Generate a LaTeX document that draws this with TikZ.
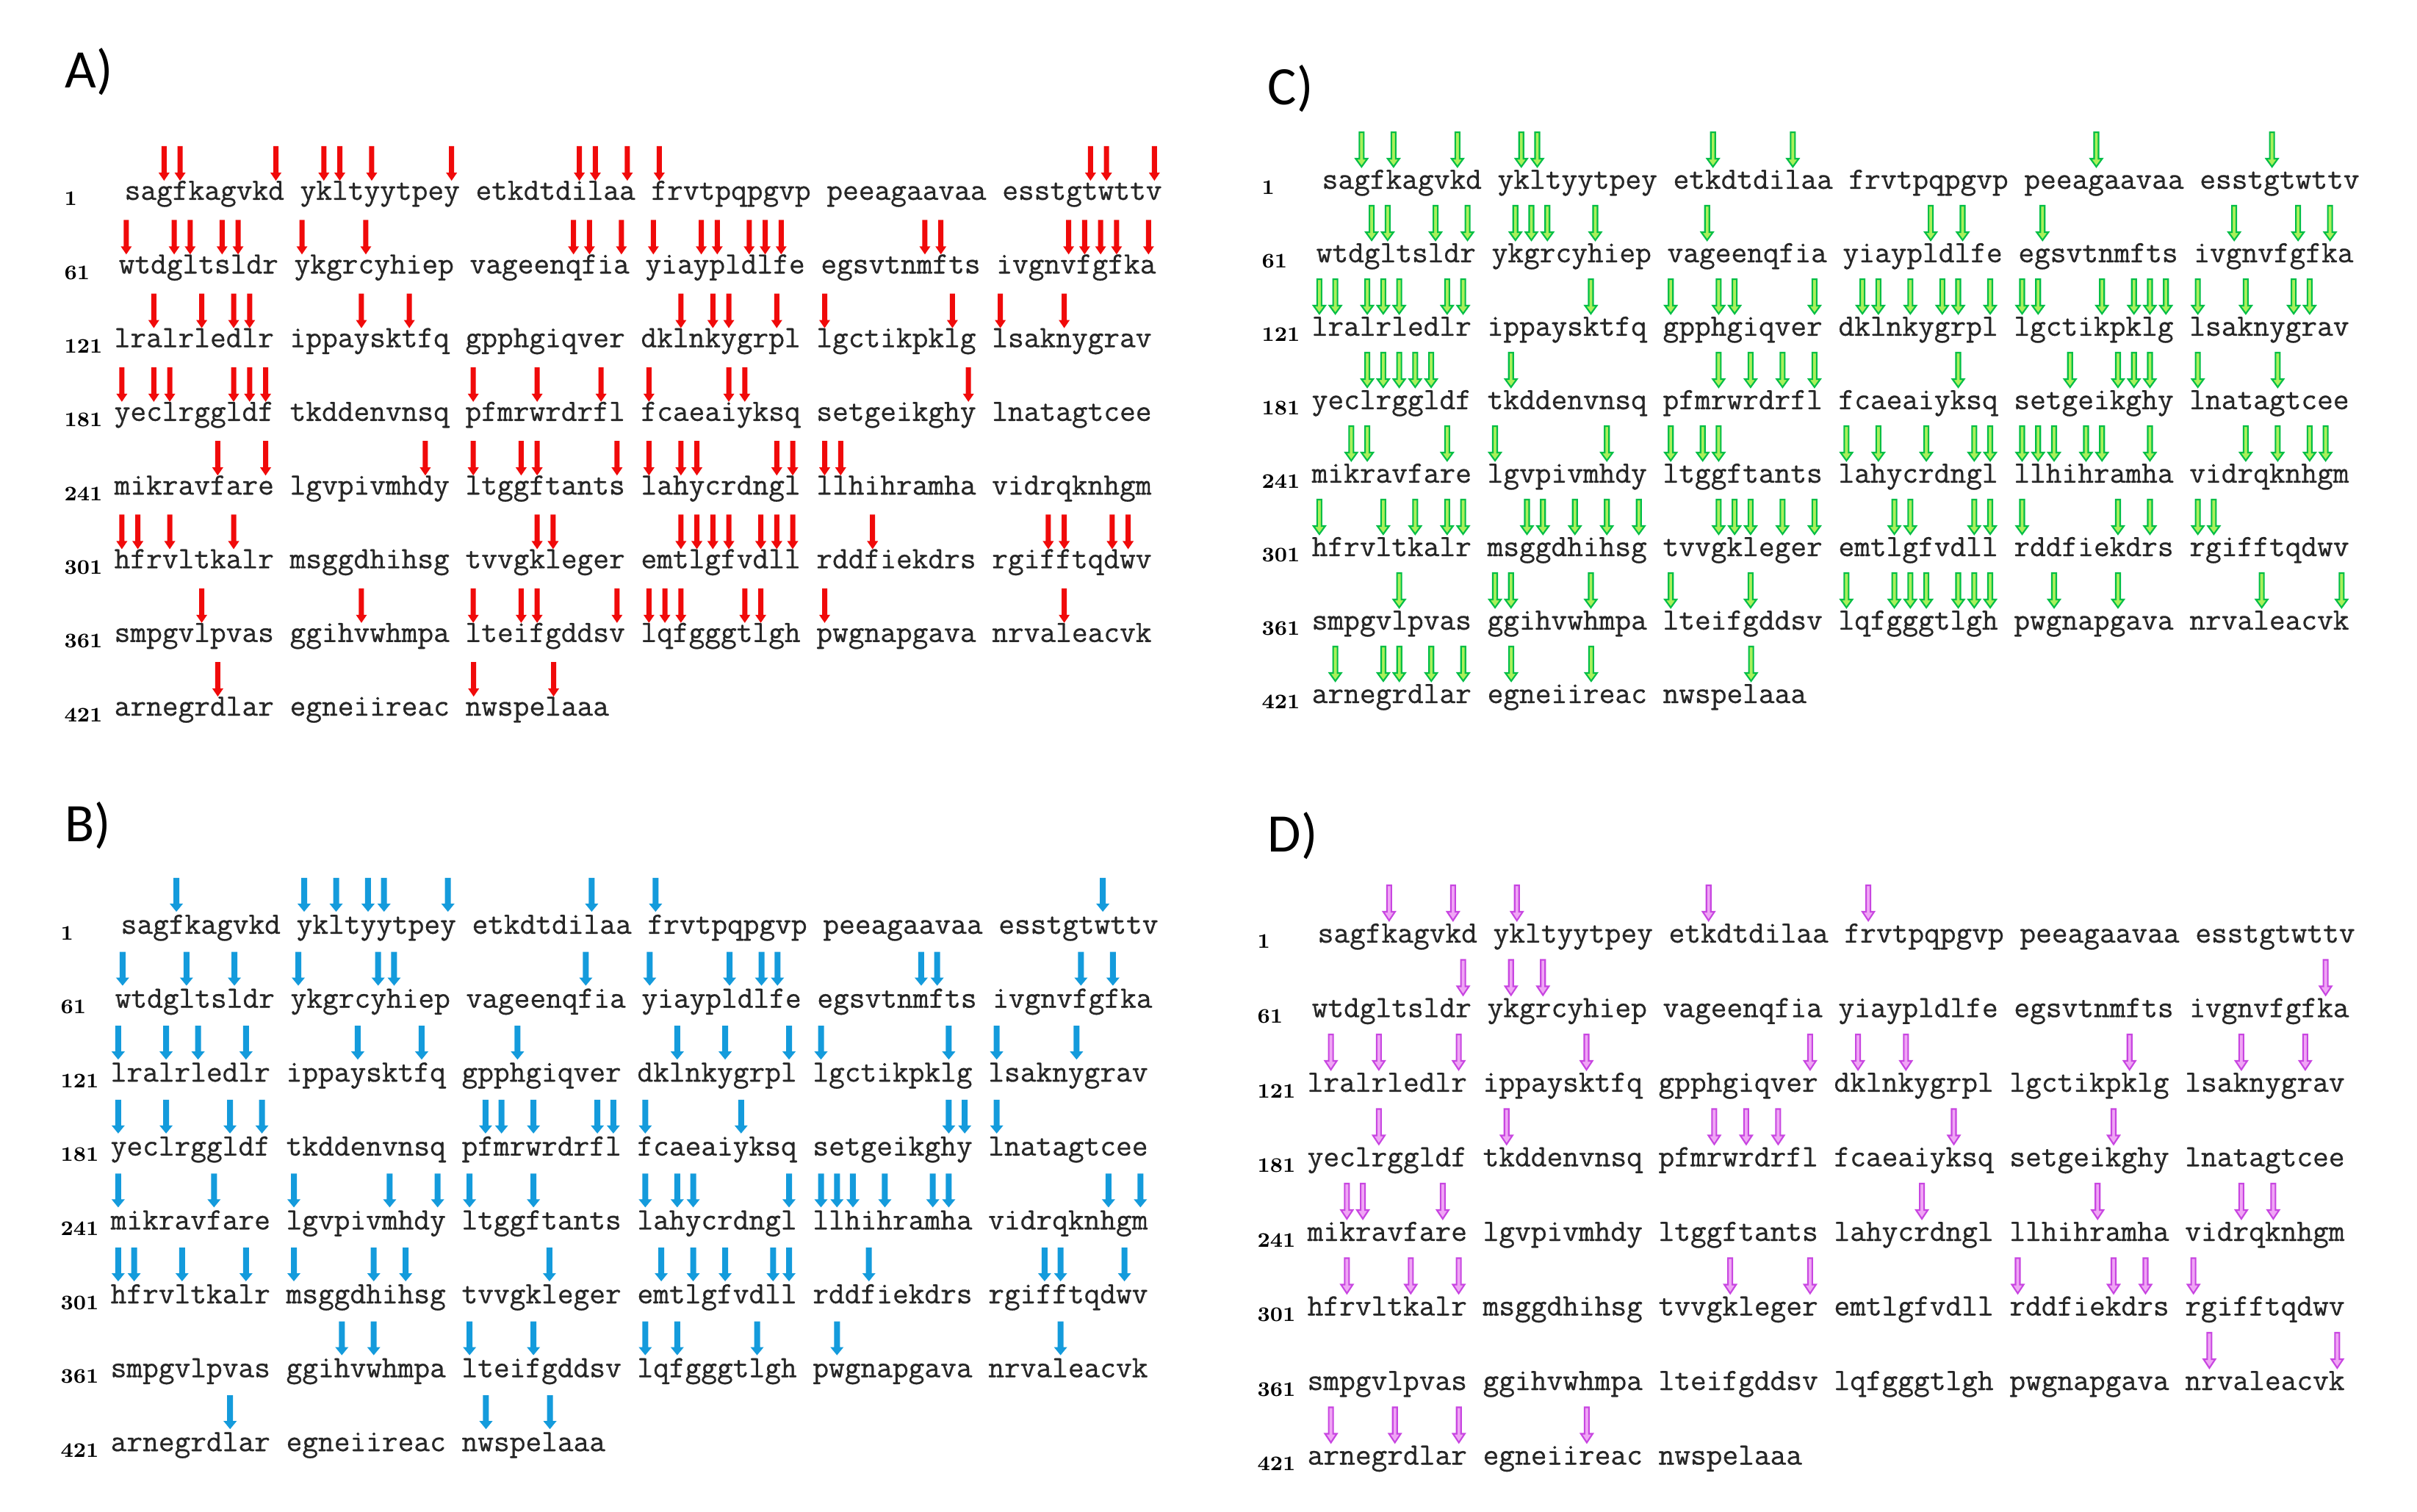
\documentclass[tikz,border=0pt]{standalone}
\usepackage{fontspec}
\newfontfamily\panelfont{Carlito}
\newfontfamily\seqfont{Latin Modern Mono}[FakeBold=0.6]
\usetikzlibrary{calc}

\definecolor{redarr}{RGB}{240,10,10}
\definecolor{bluearr}{RGB}{20,155,220}
\definecolor{greenedge}{RGB}{0,190,70}
\definecolor{greenfill}{RGB}{170,240,90}
\definecolor{violetedge}{RGB}{200,70,225}
\definecolor{violetfill}{RGB}{240,165,245}

\tikzset{
  seqline/.style={inner sep=0pt, anchor=base west, text=black!85, font=\fontsize{12}{14}\selectfont\seqfont},
  seqnum/.style={inner sep=0pt, anchor=base west, font=\fontsize{8}{9}\selectfont\bfseries},
  panellabel/.style={inner sep=0pt, anchor=base west, font=\fontsize{21}{25}\selectfont\panelfont},
}

% the eight sequence lines of one panel: #1 prefix of the node names, #2 line spacing
\newcommand\seqlines[2]{%
  \foreach \row/\lnum/\dx/\txt in {
    1/1/0.14/{sagfkagvkd ykltyytpey etkdtdilaa frvtpqpgvp peeagaavaa esstgtwttv},
    2/61/0.06/{wtdgltsldr ykgrcyhiep vageenqfia yiaypldlfe egsvtnmfts ivgnvfgfka},
    3/121/0/{lralrledlr ippaysktfq gpphgiqver dklnkygrpl lgctikpklg lsaknygrav},
    4/181/0/{yeclrggldf tkddenvnsq pfmrwrdrfl fcaeaiyksq setgeikghy lnatagtcee},
    5/241/0/{mikravfare lgvpivmhdy ltggftants lahycrdngl llhihramha vidrqknhgm},
    6/301/0/{hfrvltkalr msggdhihsg tvvgkleger emtlgfvdll rddfiekdrs rgifftqdwv},
    7/361/0/{smpgvlpvas ggihvwhmpa lteifgddsv lqfgggtlgh pwgnapgava nrvaleacvk},
    8/421/0/{arnegrdlar egneiireac nwspelaaa}}{
    \node[seqnum] (#1n\row) at (-0.68,{-(\row-1)*#2-0.08}) {\lnum};
    \node[seqline] (#1\row) at (\dx,{-(\row-1)*#2}) {\txt};
  }%
}

\begin{document}
\begin{tikzpicture}
  \fill[white] (0,0) rectangle (32.90,20.57);
  \useasboundingbox (0,0) rectangle (32.90,20.57);

  % A)
  \begin{scope}[xshift=1.55cm, yshift=17.85cm]
    \node[panellabel] (labA) at (-0.67,1.52) {A)};
    \seqlines{A}{1.003}
    \foreach \row/\len/\cols in {
      1/65/{2,3,9,12,13,15,20,28,29,31,33,60,61,64},
      2/65/{0,3,4,6,7,11,15,28,29,31,33,36,37,39,40,41,50,51,59,60,61,62,64},
      3/65/{2,5,7,8,15,18,35,37,38,41,44,52,55,59},
      4/65/{0,2,3,7,8,9,22,26,30,33,38,39,53},
      5/65/{6,9,19,22,25,26,31,33,35,36,41,42,44,45},
      6/65/{0,1,3,7,26,27,35,36,37,38,40,41,42,47,58,59,62,63},
      7/65/{5,15,22,25,26,31,33,34,35,39,40,44,59},
      8/31/{6,22,27}}{
      \foreach \col in \cols {
        \fill[redarr] ($(A\row.base west)!{(\col+0.5)/\len}!(A\row.base east)+(0,0.26)$)
          -- ++(-0.075,0.11) -- ++(0.04,0) -- ++(0,0.36) -- ++(0.07,0) -- ++(0,-0.36) -- ++(0.04,0) -- cycle;
      }
    }
  \end{scope}

  % B)
  \begin{scope}[xshift=1.50cm, yshift=7.86cm]
    \node[panellabel] (labB) at (-0.62,1.25) {B)};
    \seqlines{B}{1.006}
    \foreach \row/\len/\cols in {
      1/65/{3,11,13,15,16,20,29,33,61},
      2/65/{0,4,7,11,16,17,29,33,38,40,41,50,51,60,62},
      3/65/{0,3,5,8,15,19,25,35,38,42,44,52,55,60},
      4/65/{0,3,7,9,23,24,26,30,31,33,39,52,53,55},
      5/65/{0,6,11,17,20,22,26,33,35,36,42,44,45,46,48,51,52,62,64},
      6/65/{0,1,4,8,11,16,18,27,34,36,38,41,42,47,58,59,63},
      7/65/{14,16,22,26,33,35,40,45,59},
      8/31/{7,23,27}}{
      \foreach \col in \cols {
        \fill[bluearr] ($(B\row.base west)!{(\col+0.5)/\len}!(B\row.base east)+(0,0.30)$)
          -- ++(-0.09,0.11) -- ++(0.05,0) -- ++(0,0.35) -- ++(0.08,0) -- ++(0,-0.35) -- ++(0.05,0) -- cycle;
      }
    }
  \end{scope}

  % C)
  \begin{scope}[xshift=17.85cm, yshift=18.00cm]
    \node[panellabel] (labC) at (-0.60,1.14) {C)};
    \seqlines{C}{1.0}
    \foreach \row/\len/\cols in {
      1/65/{2,4,8,12,13,24,29,48,59},
      2/65/{3,4,7,9,12,13,14,17,24,38,40,45,57,61,63},
      3/65/{0,1,3,4,5,8,9,17,22,25,26,31,34,35,37,39,40,42,44,45,49,51,52,53,55,58,61,62},
      4/65/{3,4,5,6,7,12,25,27,29,31,40,47,50,51,52,55,60},
      5/65/{2,3,8,11,18,22,24,25,33,35,38,41,42,44,45,46,48,49,52,58,60,62,63},
      6/65/{0,4,6,8,9,13,14,16,18,20,25,26,27,29,31,36,37,41,42,44,50,52,55,56},
      7/65/{5,11,12,17,22,27,33,36,37,38,40,41,42,46,50,59,64},
      8/31/{1,4,5,7,9,12,17,27}}{
      \foreach \col in \cols {
        \filldraw[fill=greenfill, draw=greenedge, line width=0.6pt]
          ($(C\row.base west)!{(\col+0.5)/\len}!(C\row.base east)+(0,0.30)$)
          -- ++(-0.08,0.11) -- ++(0.05,0) -- ++(0,0.36) -- ++(0.06,0) -- ++(0,-0.36) -- ++(0.05,0) -- cycle;
      }
    }
  \end{scope}

  % D)
  \begin{scope}[xshift=17.79cm, yshift=7.74cm]
    \node[panellabel] (labD) at (-0.54,1.23) {D)};
    \seqlines{D}{1.015}
    \foreach \row/\len/\cols in {
      1/65/{4,8,12,24,34},
      2/65/{9,12,14,63},
      3/65/{1,4,9,17,31,34,37,51,58,62},
      4/65/{4,12,25,27,29,40,50},
      5/65/{2,3,8,38,49,58,60},
      6/65/{2,6,9,26,31,44,50,52,55},
      7/65/{56,64},
      8/31/{1,5,9,17}}{
      \foreach \col in \cols {
        \filldraw[fill=violetfill, draw=violetedge, line width=0.6pt]
          ($(D\row.base west)!{(\col+0.5)/\len}!(D\row.base east)+(0,0.30)$)
          -- ++(-0.08,0.12) -- ++(0.05,0) -- ++(0,0.36) -- ++(0.06,0) -- ++(0,-0.36) -- ++(0.05,0) -- cycle;
      }
    }
  \end{scope}
\end{tikzpicture}
\end{document}
